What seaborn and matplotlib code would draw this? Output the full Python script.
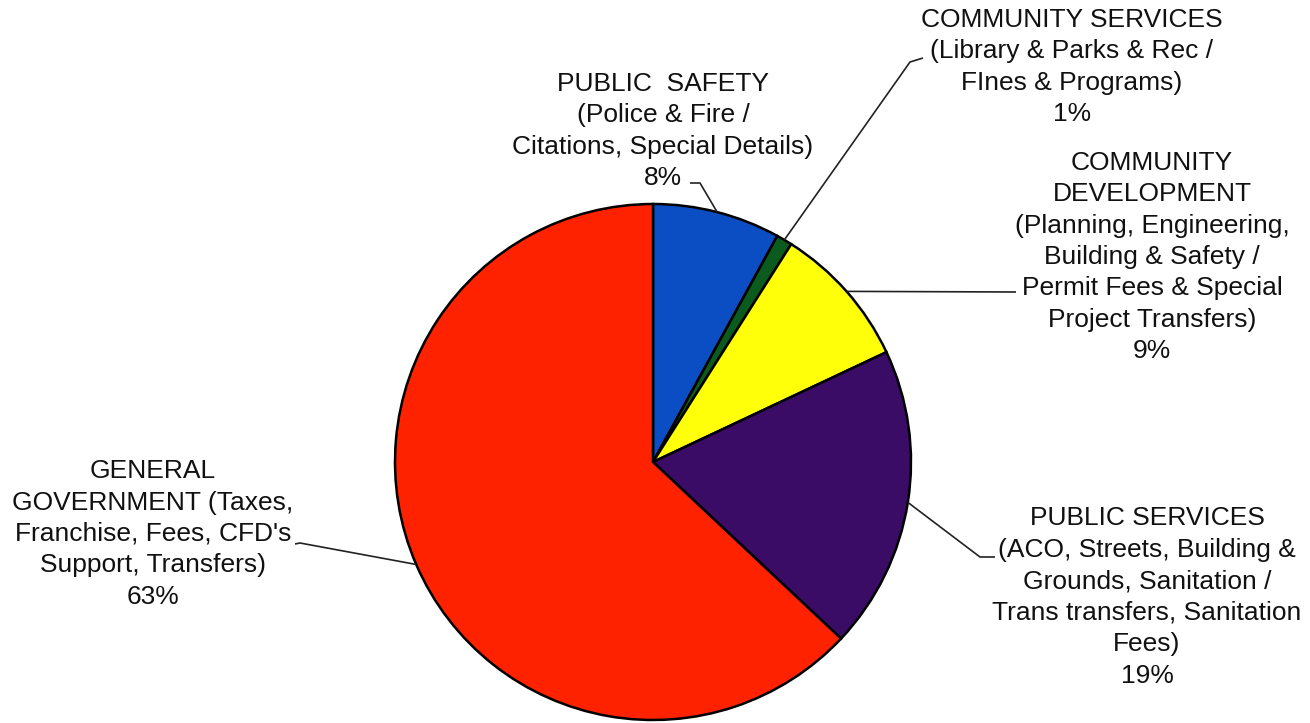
import numpy as np
import matplotlib
matplotlib.use("Agg")
import matplotlib.pyplot as plt
import seaborn as sns

# Revenue share by department (percent), clockwise from 12 o'clock
departments = [
    "PUBLIC  SAFETY\n(Police & Fire /\nCitations, Special Details)\n8%",
    "COMMUNITY SERVICES\n(Library & Parks & Rec /\nFInes & Programs)\n1%",
    "COMMUNITY\nDEVELOPMENT\n(Planning, Engineering,\nBuilding & Safety /\nPermit Fees & Special\nProject Transfers)\n9%",
    "PUBLIC SERVICES\n(ACO, Streets, Building &\nGrounds, Sanitation /\nTrans transfers, Sanitation\nFees)\n19%",
    "GENERAL\nGOVERNMENT (Taxes,\nFranchise, Fees, CFD's\nSupport, Transfers)\n63%",
]
shares = [8, 1, 9, 19, 63]
colors = ["#0B4DC2", "#0B5A1E", "#FFFF0A", "#3A0C66", "#FF2200"]

# layout (pixel coords, y measured from top of image)
W, H = 1310, 723
CX, CY, R = 653, 462, 258
label_xy = [(663, 131), (1072, 67), (1152, 257), (1147, 597), (153, 534)]
leader_pts = [
    [(700, 183), (690, 183)],
    [(910, 62), (923, 58)],
    [(1016, 292)],
    [(980, 557), (995, 557)],
    [(300, 543), (295, 544)],
]

sns.set_theme(style="white")
plt.rcParams["font.family"] = ["Liberation Sans", "DejaVu Sans"]

fig = plt.figure(figsize=(W / 100, H / 100), dpi=100)
ax = fig.add_axes([0, 0, 1, 1])

ax.pie(
    shares,
    colors=colors,
    startangle=90,
    counterclock=False,
    center=(CX, H - CY),
    radius=R,
    wedgeprops=dict(edgecolor="black", linewidth=1.8),
)

cum = np.cumsum(shares) - np.array(shares) / 2
for lab, (lx, ly), pts, mid in zip(departments, label_xy, leader_pts, cum):
    theta = np.deg2rad(90 - 360 * mid / sum(shares))
    ex = CX + R * np.cos(theta)
    ey = (H - CY) + R * np.sin(theta)
    xs = [ex] + [p[0] for p in pts]
    ys = [ey] + [H - p[1] for p in pts]
    ax.plot(xs, ys, color="#222222", lw=1.2, solid_capstyle="butt")
    ax.text(lx, H - ly, lab, ha="center", va="center", multialignment="center",
            fontsize=19, linespacing=1.39, color="#111111")

ax.set_xlim(0, W)
ax.set_ylim(0, H)
ax.set_aspect("equal")
ax.axis("off")

fig.savefig("out.png", dpi=100, facecolor="white")
